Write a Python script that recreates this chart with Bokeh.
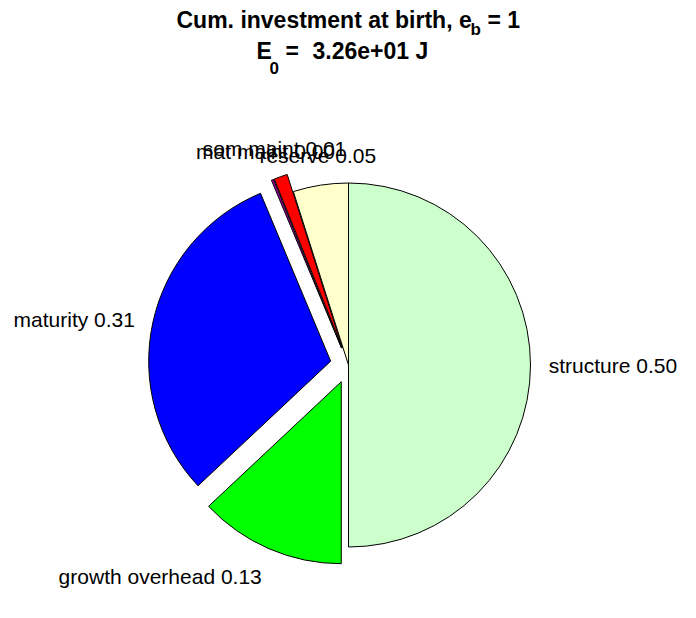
import math
from bokeh.plotting import figure
from bokeh.models import ColumnDataSource, Range1d, Label
from bokeh.core.properties import value
from bokeh.embed import file_html
from bokeh.resources import INLINE

# ---- data ----
names = ["reserve", "som maint", "mat maint", "maturity", "growth overhead", "structure"]
fractions = [0.049, 0.012, 0.002, 0.307, 0.130, 0.500]
colors = ["#FFFFCC", "#FF0000", "#A000A0", "#0000FF", "#00FF00", "#CCFFCC"]
explode = [0, 1, 1, 1, 1, 0]
title_line1 = ["Cum. investment at birth, e", "b", "= 1"]
title_line2 = ["E", "0", "=", "3.26e+01 J"]

# ---- layout (pixel-like data space) ----
W, H = 680, 600
def px(x):
    return x
def py(y):
    return H - y

cx, cy = px(348), py(364.5)
R = 182.0
FONT = "Liberation Sans"

start, end, xs, ys = [], [], [], []
lx, ly, la, lb, ltxt = [], [], [], [], []
theta = math.pi / 2
for n, f, e in zip(names, fractions, explode):
    a0 = theta
    a1 = theta + f * 2 * math.pi
    mid = (a0 + a1) / 2
    dx, dy = math.cos(mid), math.sin(mid)
    off = 0.1 * R * e
    start.append(a0)
    end.append(a1)
    xs.append(cx + dx * off)
    ys.append(cy + dy * off)
    rl = 1.1 * R + off
    lx.append(cx + dx * rl)
    ly.append(cy + dy * rl)
    if dy > 0.85:
        la.append("center"); lb.append("bottom")
    else:
        la.append("left" if dx > 0 else "right")
        lb.append("top" if dy < -0.5 else ("bottom" if dy > 0.5 else "middle"))
    ltxt.append(f"{n} {f:.2f}")
    theta = a1

src = ColumnDataSource(dict(x=xs, y=ys, start=start, end=end, color=colors))
lsrc = ColumnDataSource(dict(x=lx, y=ly, text=ltxt, align=la, base=lb))

p = figure(width=W, height=H, output_backend="svg", toolbar_location=None,
           x_range=Range1d(0, W), y_range=Range1d(0, H),
           x_axis_type=None, y_axis_type=None, min_border=0,
           background_fill_color="white", border_fill_color="white")
p.outline_line_color = None
p.grid.visible = False

p.wedge(x="x", y="y", radius=R, start_angle="start", end_angle="end",
        direction="anticlock", fill_color="color", line_color="black",
        line_width=1, source=src)

p.text(x="x", y="y", text="text", text_align="align", text_baseline="base",
       text_font=value(FONT), text_font_size="21px", text_color="black",
       source=lsrc)

# ---- title with subscripts ----
def tl(x, y, t, size, bold=True):
    p.add_layout(Label(x=px(x), y=py(y), text=t, text_font=FONT,
                       text_font_size=size, text_font_style="bold" if bold else "normal",
                       text_align="left", text_baseline="alphabetic",
                       text_color="black"))

tl(176, 19, title_line1[0], "23px")
tl(470, 29, title_line1[1], "17px")
tl(487, 19, title_line1[2], "23px")
tl(256, 50, title_line2[0], "23px")
tl(269, 67, title_line2[1], "17px")
tl(285, 50, title_line2[2], "23px")
tl(312, 50, title_line2[3], "23px")

open("out.html", "w").write(file_html(p, INLINE))
